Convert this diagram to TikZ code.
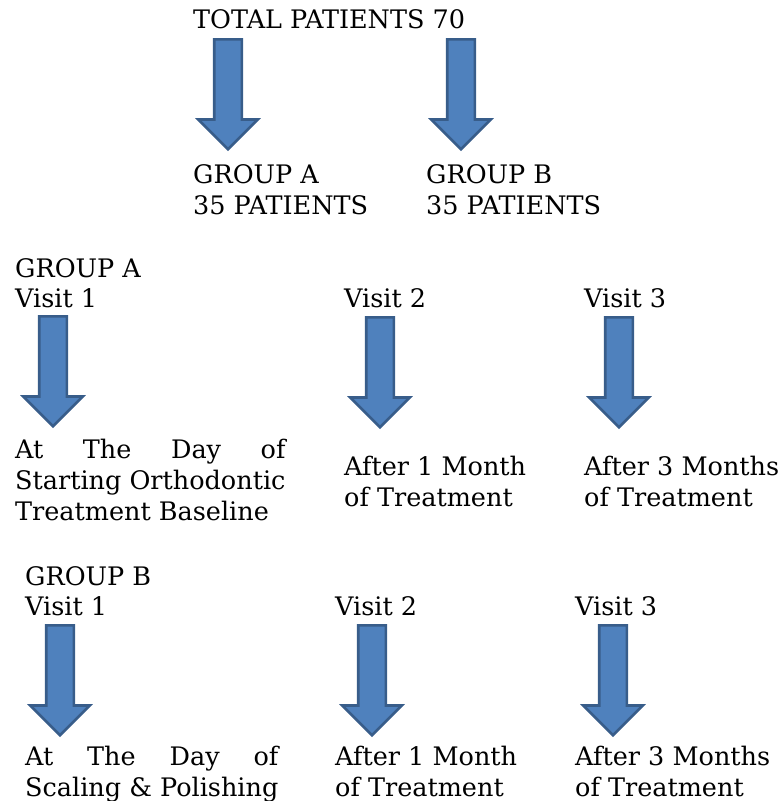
\documentclass[tikz,border=0pt]{standalone}
\usepackage{fontspec}
\setmainfont{DejaVu Serif}
\usetikzlibrary{shapes.arrows,positioning}
\definecolor{arrowfill}{HTML}{4F81BD}
\definecolor{arrowline}{HTML}{385D8A}
\newcommand{\rows}[1]{\begin{tabular}[t]{@{}l@{}}#1\end{tabular}}

\begin{document}
\begin{tikzpicture}[x=1pt, y=-1pt,
    lbl/.style={anchor=base west, inner sep=0pt,
                font=\fontsize{25.5}{31}\selectfont},
    bigarrow/.style={single arrow, rotate=-90, anchor=tail,
                     draw=arrowline, fill=arrowfill, line width=2.6pt,
                     inner xsep=0pt, inner ysep=12.5pt,
                     single arrow head extend=16pt,
                     minimum height=110pt}]
\useasboundingbox (0,0) rectangle (780,801);

% Top split
\node[lbl] (total) at (193, 28) {TOTAL PATIENTS 70};
\node[bigarrow] (splitA) at (228, 38) {};
\node[bigarrow] (splitB) at (461, 38) {};
\node[lbl] (grpA) at (193, 183) {\rows{GROUP A\\35 PATIENTS}};
\node[lbl] (grpB) at (426, 183) {\rows{GROUP B\\35 PATIENTS}};

% Group A visits
\node[lbl] (headA) at (15, 277) {GROUP A};
\node[lbl] (visA1) at (15, 307) {Visit 1};
\node[lbl] (visA2) at (344, 307) {Visit 2};
\node[lbl] (visA3) at (584, 307) {Visit 3};
\node[bigarrow] (arrA1) at (53, 315) {};
\node[bigarrow] (arrA2) at (380, 316) {};
\node[bigarrow] (arrA3) at (619, 316) {};
\node[lbl] (dayA1) at (15, 458)
  {\rows{At\hfill The\hfill Day\hfill of\\Starting Orthodontic\\Treatment Baseline}};
\node[lbl] (monA2) at (344, 475) {\rows{After 1 Month\\of Treatment}};
\node[lbl] (monA3) at (584, 475) {\rows{After 3 Months\\of Treatment}};

% Group B visits
\node[lbl] (headB) at (25, 585) {GROUP B};
\node[lbl] (visB1) at (25, 615) {Visit 1};
\node[lbl] (visB2) at (335, 615) {Visit 2};
\node[lbl] (visB3) at (575, 615) {Visit 3};
\node[bigarrow] (arrB1) at (60, 624) {};
\node[bigarrow] (arrB2) at (372, 624) {};
\node[bigarrow] (arrB3) at (613, 624) {};
\node[lbl] (dayB1) at (25, 765)
  {\rows{At\hfill The\hfill Day\hfill of\\Scaling \& Polishing}};
\node[lbl] (monB2) at (335, 765) {\rows{After 1 Month\\of Treatment}};
\node[lbl] (monB3) at (575, 765) {\rows{After 3 Months\\of Treatment}};

\end{tikzpicture}
\end{document}
